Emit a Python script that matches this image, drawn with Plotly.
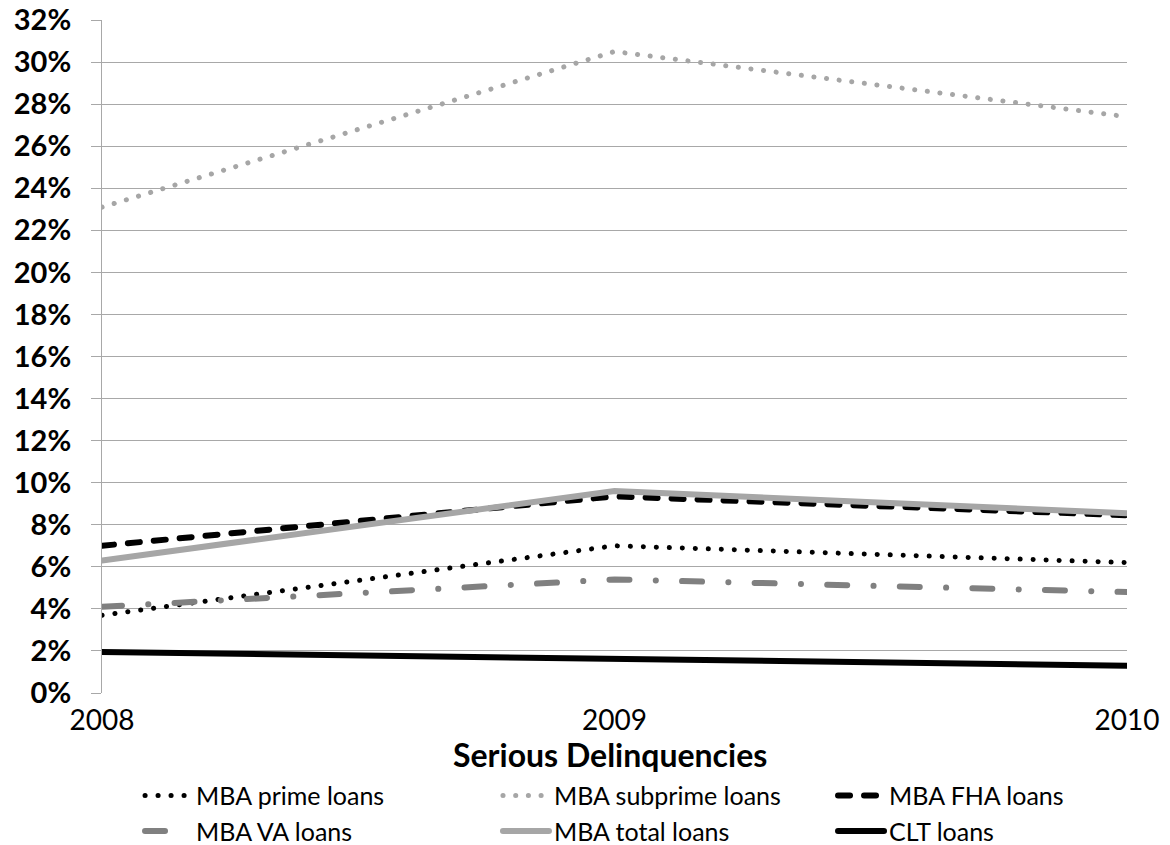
import plotly.graph_objects as go

# Serious delinquency rates by loan type (percent of loans)
years = [2008, 2009, 2010]
mba_prime = [3.7, 7.0, 6.2]
mba_subprime = [23.1, 30.5, 27.4]
mba_fha = [7.0, 9.35, 8.45]
mba_va = [4.1, 5.4, 4.8]
mba_total = [6.3, 9.6, 8.55]
clt = [1.95, 1.6, 1.3]

y_ticks = list(range(0, 33, 2))
y_tick_text = [f"{v}%" for v in y_ticks]
x_tick_text = ["2008", "2009", "2010"]

# name, values, colour, width, dash pattern, legend column
series = [
    ("MBA prime loans", mba_prime, "#000000", 5, "0.1px,12.9px", "legend"),
    ("MBA subprime loans", mba_subprime, "#a6a6a6", 5, "0.1px,12.6px", "legend2"),
    ("MBA FHA loans", mba_fha, "#000000", 6, "12px,14px", "legend3"),
    ("MBA VA loans", mba_va, "#808080", 6, "20px,26.3px,0.1px,26.2px", "legend"),
    ("MBA total loans", mba_total, "#a6a6a6", 6, "solid", "legend2"),
    ("CLT loans", clt, "#000000", 6, "solid", "legend3"),
]

fig = go.Figure()
for name, vals, color, width, dash, leg in series:
    fig.add_trace(go.Scatter(
        x=years, y=vals, name=name, mode="lines", legend=leg,
        line=dict(color=color, width=width, dash=dash),
    ))

grid = "#a8a8a8"
legend_font = dict(family="Lato", size=25, color="black")
legend_y = -0.1186


def column_legend(x):
    return dict(
        orientation="v", x=x, xanchor="left", y=legend_y, yanchor="top",
        font=legend_font, itemwidth=46, traceorder="normal",
        bgcolor="rgba(0,0,0,0)",
    )


fig.update_layout(
    width=1170, height=845,
    margin=dict(l=102, r=43, t=20, b=152, autoexpand=False),
    paper_bgcolor="white", plot_bgcolor="white",
    font=dict(family="Lato", color="black"),
    showlegend=True,
    legend=column_legend(0.0371),
    legend2=column_legend(0.3863),
    legend3=column_legend(0.7132),
    xaxis=dict(
        range=[2008, 2010], tickvals=years, ticktext=x_tick_text,
        showgrid=False, zeroline=False, showline=False,
        ticks="", ticklabelstandoff=8,
        tickfont=dict(family="Lato", size=28),
    ),
    yaxis=dict(
        range=[0, 32], tickvals=y_ticks, ticktext=y_tick_text,
        showgrid=True, gridcolor=grid, gridwidth=1, zeroline=False,
        showline=True, linecolor=grid, linewidth=1,
        ticks="outside", ticklen=10, tickcolor=grid, tickwidth=1,
        ticklabelstandoff=14,
        tickfont=dict(family="Lato", size=29, weight="bold"),
    ),
    annotations=[dict(
        text="<b>Serious Delinquencies</b>", xref="paper", yref="paper",
        x=0.4956, y=-0.092, xanchor="center", yanchor="middle",
        showarrow=False, font=dict(family="Lato", size=32, color="black"),
    )],
)

round_caps = (
    "var s=document.createElement('style');"
    "s.textContent='.js-line{stroke-linecap:round;}';"
    "document.head.appendChild(s);"
)
fig.write_html("out.html", post_script=round_caps)
